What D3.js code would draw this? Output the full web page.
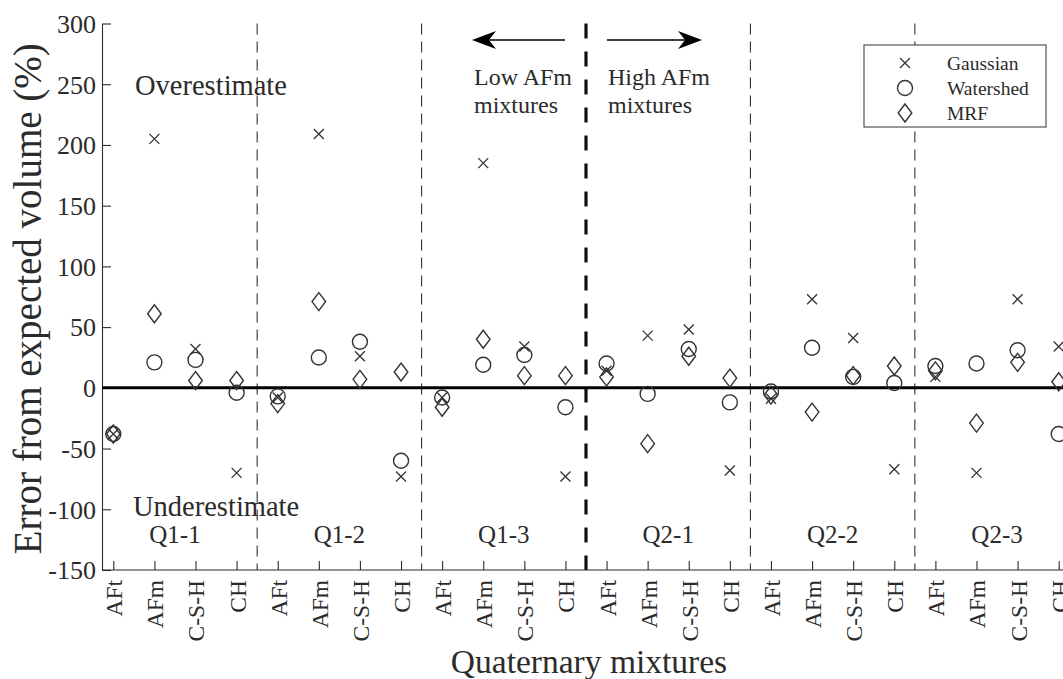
<!DOCTYPE html>
<html>
<head>
<meta charset="utf-8">
<script src="https://cdn.jsdelivr.net/npm/d3@7"></script>
<style>
  html, body { margin: 0; padding: 0; background: #fff; }
  svg { display: block; }
  svg text { font-family: "Liberation Serif", "Times New Roman", serif; }
</style>
</head>
<body>
<svg id="chart" width="1063" height="679"></svg>
<script>
// Phases measured in each quaternary mixture
const categories = ["AFt", "AFm", "C-S-H", "CH"];
const groups = ["Q1-1", "Q1-2", "Q1-3", "Q2-1", "Q2-2", "Q2-3"];
const yTicks = [-150, -100, -50, 0, 50, 100, 150, 200, 250, 300];

// Volume error (%) per phase, in group order (4 phases per group)
const gaussian  = [-38, 205, 32, -70,   -8, 209, 26, -73,   -8, 185, 34, -73,   14, 43, 48, -68,   -9, 73, 41, -67,    9, -70, 73, 34];
const watershed = [-38,  21, 23,  -4,   -7,  25, 38, -60,   -8,  19, 27, -16,   20, -5, 32, -12,   -3, 33,  9,   4,   18,  20, 31, -38];
const mrf       = [-38,  61,  6,   6,  -13,  71,  7,  13,  -16,  40, 10,  10,    9, -46, 26,  8,   -6, -20, 10, 18,   14, -29, 21,   5];

const svg = d3.select("#chart");
const ink = "#2b2b2b";
const serif = "Liberation Serif, Times New Roman, serif";

const keys = [];
groups.forEach(g => categories.forEach(c => keys.push(g + "|" + c)));

const x = d3.scalePoint().domain(keys).range([102, 1070]).padding(0.275);
const y = d3.scaleLinear().domain([-150, 300]).range([570, 23.5]);
const step = x.step();

// Group separators
const sepG = svg.append("g");
groups.slice(1).forEach(g => {
  const xs = x(g + "|AFt") - step / 2;
  const major = g === "Q2-1";
  sepG.append("line")
    .attr("x1", xs).attr("x2", xs)
    .attr("y1", y(300)).attr("y2", y(-150))
    .attr("stroke", major ? "#111" : "#333")
    .attr("stroke-width", major ? 3.2 : 1.1)
    .attr("stroke-dasharray", major ? "15,13" : "11,7");
});

// Y axis (ticks inward)
const yAxis = svg.append("g")
  .attr("transform", "translate(102,0)")
  .call(d3.axisLeft(y).tickValues(yTicks).tickSize(-9).tickSizeOuter(0)
    .tickFormat(v => String(v)));
yAxis.attr("font-family", serif);
yAxis.select(".domain").attr("stroke", ink).attr("stroke-width", 1.1);
yAxis.selectAll(".tick line").attr("stroke", ink).attr("stroke-width", 1.1);
yAxis.selectAll(".tick text").attr("fill", ink)
  .style("font-size", "26px").style("font-family", serif)
  .attr("dy", "0.34em").attr("x", -6);

// X axis (ticks inward, rotated category labels)
const xAxis = svg.append("g")
  .attr("transform", "translate(0,570)")
  .call(d3.axisBottom(x).tickSize(-9).tickSizeOuter(0).tickFormat(k => k.split("|")[1]));
xAxis.attr("font-family", serif);
xAxis.select(".domain").attr("stroke", ink).attr("stroke-width", 1.1)
  .attr("d", "M102,0H1070");
xAxis.selectAll(".tick line").attr("stroke", ink).attr("stroke-width", 1.1);
xAxis.selectAll(".tick text")
  .attr("fill", ink).style("font-size", "23.5px").style("font-family", serif)
  .attr("transform", "rotate(-90)")
  .attr("text-anchor", "end")
  .attr("x", -10).attr("y", 0).attr("dy", "0.36em");

// Zero reference line
svg.append("line")
  .attr("x1", 102).attr("x2", 1070)
  .attr("y1", y(0)).attr("y2", y(0))
  .attr("stroke", "#000").attr("stroke-width", 3);

// Group names
svg.append("g").selectAll("text").data(groups).join("text")
  .attr("x", g => (x(g + "|AFm") + x(g + "|C-S-H")) / 2)
  .attr("y", 543)
  .attr("text-anchor", "middle")
  .attr("fill", ink).style("font-size", "25px")
  .text(g => g);

// Region notes
svg.append("text").attr("x", 135).attr("y", 95).attr("fill", ink)
  .style("font-size", "28.5px").text("Overestimate");
svg.append("text").attr("x", 133).attr("y", 516).attr("fill", ink)
  .style("font-size", "28.5px").text("Underestimate");

// Axis titles
svg.append("text")
  .attr("transform", `translate(41,${(y(300) + y(-150)) / 2 + 2}) rotate(-90)`)
  .attr("text-anchor", "middle").attr("fill", ink)
  .style("font-size", "39px").text("Error from expected volume (%)");
svg.append("text")
  .attr("x", 589).attr("y", 673).attr("text-anchor", "middle").attr("fill", ink)
  .style("font-size", "33.5px").text("Quaternary mixtures");

// Low / High AFm arrows
const mid = x("Q2-1|AFt") - step / 2;
const arrowY = 40;
function arrow(x1, x2) {
  const dir = Math.sign(x2 - x1);
  svg.append("line").attr("x1", x1).attr("x2", x2 - dir * 10)
    .attr("y1", arrowY).attr("y2", arrowY).attr("stroke", "#000").attr("stroke-width", 1.6);
  svg.append("path")
    .attr("d", `M${x2},${arrowY} L${x2 - dir * 24},${arrowY - 9} L${x2 - dir * 17},${arrowY} L${x2 - dir * 24},${arrowY + 9} Z`)
    .attr("fill", "#000");
}
arrow(mid - 21, mid - 114);
arrow(mid + 21, mid + 116);
const noteG = svg.append("g").attr("fill", ink).style("font-size", "24px");
noteG.append("text").attr("x", mid - 112).attr("y", 85).text("Low AFm");
noteG.append("text").attr("x", mid - 112).attr("y", 113).text("mixtures");
noteG.append("text").attr("x", mid + 22).attr("y", 85).text("High AFm");
noteG.append("text").attr("x", mid + 22).attr("y", 113).text("mixtures");

// Marker shapes
function drawCross(sel) {
  sel.append("path").attr("d", "M-5,-5L5,5M-5,5L5,-5")
    .attr("stroke", "#333").attr("stroke-width", 1.3).attr("fill", "none");
}
function drawCircle(sel) {
  sel.append("circle").attr("r", 7.5)
    .attr("stroke", "#333").attr("stroke-width", 1.4).attr("fill", "none");
}
function drawDiamond(sel) {
  sel.append("path").attr("d", "M0,-9L6.8,0L0,9L-6.8,0Z")
    .attr("stroke", "#333").attr("stroke-width", 1.4).attr("fill", "none");
}

const series = [
  { name: "Gaussian", values: gaussian, draw: drawCross },
  { name: "Watershed", values: watershed, draw: drawCircle },
  { name: "MRF", values: mrf, draw: drawDiamond }
];

series.forEach(s => {
  svg.append("g").selectAll("g").data(s.values).join("g")
    .attr("transform", (v, i) => `translate(${x(keys[i])},${y(v)})`)
    .each(function () { s.draw(d3.select(this)); });
});

// Legend
const lg = svg.append("g").attr("transform", "translate(864,45)");
lg.append("rect").attr("width", 182).attr("height", 82)
  .attr("fill", "#fff").attr("stroke", "#444").attr("stroke-width", 1.1);
series.forEach((s, i) => {
  const row = lg.append("g").attr("transform", `translate(0,${18 + i * 25})`);
  const m = row.append("g").attr("transform", "translate(41,0)");
  s.draw(m);
  row.append("text").attr("x", 83).attr("y", 0).attr("dy", "0.35em")
    .attr("fill", ink).style("font-size", "19.5px").text(s.name);
});
</script>
</body>
</html>
